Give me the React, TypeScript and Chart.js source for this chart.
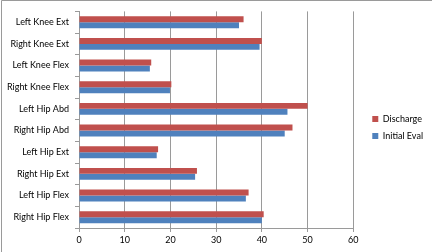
import React, { useEffect, useRef } from "react";
import { Chart, registerables } from "chart.js";

Chart.register(...registerables);

const categories = [
  "Left Knee Ext",
  "Right Knee Ext",
  "Left Knee Flex",
  "Right Knee Flex",
  "Left Hip Abd",
  "Right Hip Abd",
  "Left Hip Ext",
  "Right Hip Ext",
  "Left Hip Flex",
  "Right Hip Flex",
];
const discharge = [36.0, 40.0, 15.8, 20.2, 50.0, 46.7, 17.3, 25.8, 37.1, 40.4];
const initialEval = [35.0, 39.5, 15.5, 19.9, 45.6, 45.0, 17.0, 25.4, 36.5, 40.0];
const xMin = 0;
const xMax = 60;
const xStep = 10;

const FONT = "Lato, 'Liberation Sans', sans-serif";
const LEGEND_DX = 11;
const LEGEND_DY = -4;

const borderPlugin = {
  id: "outerBorder",
  beforeDraw(chart: any) {
    const ctx = chart.ctx;
    ctx.save();
    ctx.fillStyle = "#ffffff";
    ctx.fillRect(0, 0, chart.width, chart.height);
    ctx.strokeStyle = "#9a9a9a";
    ctx.lineWidth = 1;
    ctx.beginPath();
    ctx.moveTo(1.5, chart.height);
    ctx.lineTo(1.5, 0.5);
    ctx.lineTo(chart.width, 0.5);
    ctx.stroke();
    ctx.restore();
  },
  afterLayout(chart: any) {
    if (chart.legend) {
      chart.legend.left += LEGEND_DX;
      chart.legend.right += LEGEND_DX;
      chart.legend.top += LEGEND_DY;
      chart.legend.bottom += LEGEND_DY;
    }
  },
};

export default function App() {
  const ref = useRef<HTMLCanvasElement | null>(null);
  useEffect(() => {
    document.body.style.margin = "0";
    const canvas = ref.current!;
    const chart = new Chart(canvas, {
      type: "bar",
      data: {
        labels: categories,
        datasets: [
          {
            label: "Discharge",
            data: discharge,
            backgroundColor: "#C0504D",
            barPercentage: 1,
            categoryPercentage: 0.55,
          },
          {
            label: "Initial Eval",
            data: initialEval,
            backgroundColor: "#4F81BD",
            barPercentage: 1,
            categoryPercentage: 0.55,
          },
        ],
      },
      options: {
        indexAxis: "y",
        responsive: false,
        animation: false,
        layout: { padding: { left: 6, top: 11, right: 10, bottom: 0 } },
        plugins: {
          tooltip: { enabled: false },
          legend: {
            position: "right",
            labels: {
              boxWidth: 6,
              boxHeight: 6,
              padding: 8,
              color: "#000000",
              font: { family: FONT, size: 9 },
            },
          },
        },
        scales: {
          x: {
            min: xMin,
            max: xMax,
            ticks: {
              stepSize: xStep,
              color: "#000000",
              font: { family: FONT, size: 9 },
              padding: 3,
            },
            grid: {
              color: "#9a9a9a",
              tickLength: 4,
              drawTicks: true,
            },
            border: { color: "#9a9a9a" },
            afterFit(s: any) {
              s.height = 24;
            },
          },
          y: {
            ticks: {
              color: "#000000",
              font: { family: FONT, size: 9 },
              padding: 6,
            },
            grid: {
              drawOnChartArea: false,
              color: "#9a9a9a",
              tickLength: 4,
            },
            border: { color: "#9a9a9a" },
            afterFit(s: any) {
              s.width = 73;
            },
          },
        },
      },
      plugins: [borderPlugin],
    });
    return () => chart.destroy();
  }, []);
  return (
    <div style={{ position: "fixed", left: 0, top: 0, width: 432, height: 252 }}>
      <canvas ref={ref} width={432} height={252} style={{ display: "block" }} />
    </div>
  );
}
